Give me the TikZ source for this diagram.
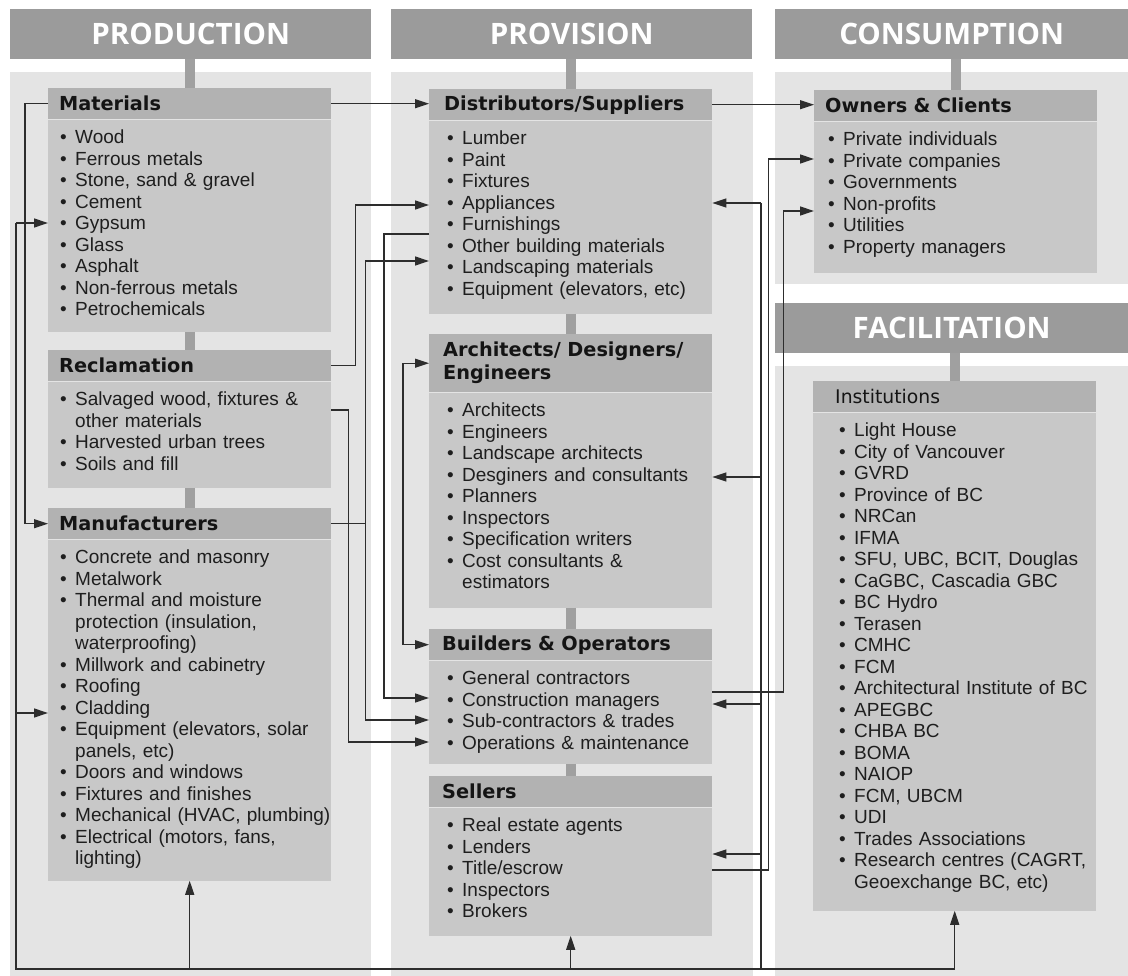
\documentclass[tikz,border=0pt]{standalone}
\usepackage{fontspec}
\setmainfont{Liberation Sans}
\newfontfamily\colfont{Open Sans}
\newfontfamily\boxfont{DejaVu Sans}
\usetikzlibrary{calc,arrows.meta}
\definecolor{mycolgray}{RGB}{155,155,155}
\definecolor{mybggray}{RGB}{228,228,228}
\definecolor{myheadgray}{RGB}{178,178,178}
\definecolor{mybodygray}{RGB}{200,200,200}
\definecolor{mystubgray}{RGB}{160,160,160}
\definecolor{mylinegray}{RGB}{45,45,45}
\definecolor{mytextgray}{RGB}{30,30,30}

\newcommand\bu[1]{\mbox{\makebox[15pt][l]{\textbullet}#1}}
\newcommand\ct[1]{\mbox{\hspace*{15pt}#1}}

\tikzset{
  colhead/.style={anchor=north west, fill=mycolgray, text=white, minimum width=361, minimum height=50, inner sep=0,
    font=\colfont\bfseries\fontsize{29.5}{31}\selectfont},
  boxhead/.style={anchor=north west, fill=myheadgray, text=black!92, text width=261, inner xsep=11, inner ysep=0,
    minimum height=31, align=left, font=\boxfont\bfseries\fontsize{19.3}{23}\selectfont},
  boxbody/.style={anchor=north west, fill=mybodygray, text=mytextgray, inner ysep=9, text height=15, align=left,
    font=\fontsize{19}{21.5}\selectfont},
  prodbody/.style={boxbody, inner xsep=12, text width=259},
  provbody/.style={boxbody, inner xsep=18, text width=247},
  ownbody/.style={boxbody, inner xsep=14, text width=255},
  instbody/.style={boxbody, inner xsep=26, text width=231},
  stub/.style={draw=mystubgray, line width=10},
  conn/.style={draw=mylinegray, line width=1.3},
  arr/.style={conn, -{Triangle[length=14pt,width=9pt]}},
  arrboth/.style={conn, {Triangle[length=14pt,width=9pt]}-{Triangle[length=14pt,width=9pt]}}
}

\begin{document}
\begin{tikzpicture}[x=1pt,y=-1pt]
  \useasboundingbox (0,0) rectangle (1128,976);
  \fill[white] (0,0) rectangle (1128,976);
  \fill[mybggray] (10,72) rectangle (371,976);
  \fill[mybggray] (391,72) rectangle (753,976);
  \fill[mybggray] (775,72) rectangle (1128,284);
  \fill[mybggray] (775,366) rectangle (1128,976);

  \node[colhead] (prodH) at (10,9) {PRODUCTION};
  \node[colhead] (provH) at (391,9) {PROVISION};
  \node[colhead, minimum width=353] (consH) at (775,9) {CONSUMPTION};
  \node[colhead, minimum width=353] (faciH) at (775,303) {FACILITATION};

  \node[boxhead] (matT) at (48,88) {Materials};
  \node[prodbody, text depth=179] (matB) at (matT.south west) {\bu{Wood}\\\bu{Ferrous metals}\\\bu{Stone, sand \& gravel}\\\bu{Cement}\\\bu{Gypsum}\\\bu{Glass}\\\bu{Asphalt}\\\bu{Non-ferrous metals}\\\bu{Petrochemicals}};
  \node[boxhead] (recT) at (48,350) {Reclamation};
  \node[prodbody, text depth=73] (recB) at (recT.south west) {\bu{Salvaged wood, fixtures \&}\\\ct{other materials}\\\bu{Harvested urban trees}\\\bu{Soils and fill}};
  \node[boxhead] (manT) at (48,508) {Manufacturers};
  \node[prodbody, text depth=308] (manB) at (manT.south west) {\bu{Concrete and masonry}\\\bu{Metalwork}\\\bu{Thermal and moisture}\\\ct{protection (insulation,}\\\ct{waterproofing)}\\\bu{Millwork and cabinetry}\\\bu{Roofing}\\\bu{Cladding}\\\bu{Equipment (elevators, solar}\\\ct{panels, etc)}\\\bu{Doors and windows}\\\bu{Fixtures and finishes}\\\bu{Mechanical (HVAC, plumbing)}\\\bu{Electrical (motors, fans,}\\\ct{lighting)}};

  \node[boxhead, inner xsep=15, text width=253] (disT) at (429,89) {Distributors/Suppliers};
  \node[provbody, text depth=160] (disB) at (disT.south west) {\bu{Lumber}\\\bu{Paint}\\\bu{Fixtures}\\\bu{Appliances}\\\bu{Furnishings}\\\bu{Other building materials}\\\bu{Landscaping materials}\\\bu{Equipment (elevators, etc)}};
  \node[boxhead, inner xsep=14, text width=255, minimum height=58] (archT) at (429,334) {Architects/ Designers/\\Engineers};
  \node[provbody, text depth=182] (archB) at (archT.south west) {\bu{Architects}\\\bu{Engineers}\\\bu{Landscape architects}\\\bu{Desginers and consultants}\\\bu{Planners}\\\bu{Inspectors}\\\bu{Specification writers}\\\bu{Cost consultants \&}\\\ct{estimators}};
  \node[boxhead, inner xsep=13, text width=257] (buiT) at (429,629) {Builders \& Operators};
  \node[provbody, text depth=70] (buiB) at (buiT.south west) {\bu{General contractors}\\\bu{Construction managers}\\\bu{Sub-contractors \& trades}\\\bu{Operations \& maintenance}};
  \node[boxhead, inner xsep=13, text width=257] (selT) at (429,776) {Sellers};
  \node[provbody, text depth=95] (selB) at (selT.south west) {\bu{Real estate agents}\\\bu{Lenders}\\\bu{Title/escrow}\\\bu{Inspectors}\\\bu{Brokers}};

  \node[boxhead] (ownT) at (814,90) {Owners \& Clients};
  \node[ownbody, text depth=118] (ownB) at (ownT.south west) {\bu{Private individuals}\\\bu{Private companies}\\\bu{Governments}\\\bu{Non-profits}\\\bu{Utilities}\\\bu{Property managers}};
  \node[boxhead, inner xsep=22, text width=239, font=\boxfont\fontsize{18.8}{23}\selectfont] (instT) at (813,381) {Institutions};
  \node[instbody, text depth=465] (instB) at (instT.south west) {\bu{Light House}\\\bu{City of Vancouver}\\\bu{GVRD}\\\bu{Province of BC}\\\bu{NRCan}\\\bu{IFMA}\\\bu{SFU, UBC, BCIT, Douglas}\\\bu{CaGBC, Cascadia GBC}\\\bu{BC Hydro}\\\bu{Terasen}\\\bu{CMHC}\\\bu{FCM}\\\bu{Architectural Institute of BC}\\\bu{APEGBC}\\\bu{CHBA BC}\\\bu{BOMA}\\\bu{NAIOP}\\\bu{FCM, UBCM}\\\bu{UDI}\\\bu{Trades Associations}\\\bu{Research centres (CAGRT,}\\\ct{Geoexchange BC, etc)}};

  \draw[stub] (matT.north |- prodH.south) -- (matT.north);
  \draw[stub] (matB.south) -- (recT.north);
  \draw[stub] (recB.south) -- (manT.north);
  \draw[stub] (disT.north |- provH.south) -- (disT.north);
  \draw[stub] (disB.south) -- (archT.north);
  \draw[stub] (archB.south) -- (buiT.north);
  \draw[stub] (buiB.south) -- (selT.north);
  \draw[stub] (ownT.north |- consH.south) -- (ownT.north);
  \draw[stub] (instT.north |- faciH.south) -- (instT.north);

  \coordinate (busL) at (16,969);
  \coordinate (busR) at (761,969);

  \draw[arr] (matT.east) -- (matT.east -| disT.west);
  \draw[arr] (disT.east) -- (disT.east -| ownT.west);
  \draw[arr] (matT.west) -- ++(-23,0) |- (manT.west);
  \draw[arr] (recT.east) -- ++(24,0) |- (disB.west |- 0,205);
  \draw[arr] (disB.west |- 0,234) -- ++(-45,0) |- (buiB.west |- 0,698);
  \draw[arr] (manT.east) -- ++(34,0) |- (disB.west |- 0,261);
  \draw[arr] (manT.east) -- ++(34,0) |- (buiB.west |- 0,720);
  \draw[arr] (recB.east |- 0,410) -- ++(17,0) |- (buiB.west |- 0,742);
  \draw[arrboth] (archT.west) -- ++(-26,0) |- (buiT.west);
  \draw[arr] (buiB.east |- 0,692) -- ++(71,0) |- (ownB.west |- 0,211);
  \draw[arr] (selB.east |- 0,870) -- ++(56,0) |- (ownB.west |- 0,159);

  \draw[conn] (busL |- 0,223) -- (busL) -- (busR) -- (busR |- 0,203);
  \draw[arr] (busL |- 0,223) -- (matB.west |- 0,223);
  \draw[arr] (busL |- 0,713) -- (manB.west |- 0,713);
  \draw[arr] (busL -| manB.south) -- (manB.south);
  \draw[arr] (busL -| selB.south) -- (selB.south);
  \draw[arr] (busR) -| (instB.south);
  \draw[arr] (busR |- 0,203) -- (disB.east |- 0,203);
  \draw[arr] (busR |- 0,477) -- (archB.east |- 0,477);
  \draw[arr] (busR |- 0,704) -- (buiB.east |- 0,704);
  \draw[arr] (busR |- 0,854) -- (selB.east |- 0,854);
\end{tikzpicture}
\end{document}
